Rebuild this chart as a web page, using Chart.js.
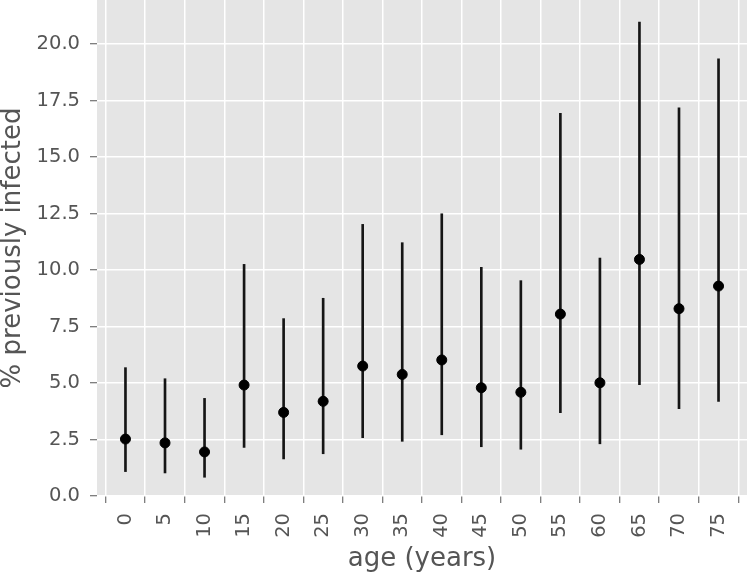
<!DOCTYPE html>
<html>
<head>
<meta charset="utf-8">
<script src="https://cdn.jsdelivr.net/npm/chart.js@4/dist/chart.umd.min.js"></script>
<style>
  body { margin: 0; background: #fff; }
  #wrap { width: 748px; height: 572px; }
</style>
</head>
<body>
<div id="wrap"><canvas id="chart" width="748" height="572"></canvas></div>
<script>
// age groups and % previously infected (point estimate, lower, upper)
const ages = [0, 5, 10, 15, 20, 25, 30, 35, 40, 45, 50, 55, 60, 65, 70, 75];
const estimate = [2.52, 2.35, 1.95, 4.91, 3.70, 4.19, 5.75, 5.38, 6.02, 4.79, 4.59, 8.05, 5.01, 10.47, 8.29, 9.29];
const lower = [1.08, 1.02, 0.83, 2.15, 1.64, 1.87, 2.58, 2.42, 2.71, 2.18, 2.07, 3.69, 2.31, 4.93, 3.86, 4.19];
const upper = [5.68, 5.19, 4.32, 10.25, 7.85, 8.75, 12.02, 11.21, 12.49, 10.12, 9.53, 16.93, 10.53, 20.97, 17.18, 19.35];
const yTicks = [0, 2.5, 5, 7.5, 10, 12.5, 15, 17.5, 20];

const textColor = "#555555";
const tickFont = { family: "DejaVu Sans", size: 19.5 };
const titleFont = { family: "DejaVu Sans", size: 26, lineHeight: 1 };

// ggplot style grey panel
const panelBg = {
  id: "panelBg",
  beforeDraw(chart) {
    const a = chart.chartArea;
    const ctx = chart.ctx;
    ctx.save();
    ctx.fillStyle = "#E5E5E5";
    ctx.fillRect(a.left, a.top, a.right - a.left, a.bottom - a.top);
    ctx.restore();
  }
};

const noPad = (scale) => {
  scale.paddingTop = 0;
  scale.paddingBottom = 0;
  scale.paddingLeft = 0;
  scale.paddingRight = 0;
};

const ctx = document.getElementById("chart").getContext("2d");
const myChart = new Chart(ctx, {
  type: "bar",
  data: {
    datasets: [
      {
        type: "scatter",
        data: ages.map((a, i) => ({ x: a, y: estimate[i] })),
        backgroundColor: "#000",
        borderColor: "#000",
        pointRadius: 5,
        pointHoverRadius: 5,
        order: 0
      },
      {
        type: "bar",
        data: ages.map((a, i) => ({ x: a, y: [lower[i], upper[i]] })),
        backgroundColor: "#151515",
        borderWidth: 0,
        barThickness: 2,
        order: 1
      }
    ]
  },
  options: {
    responsive: false,
    animation: false,
    events: [],
    layout: { autoPadding: false, padding: { top: 0, right: 1, left: 0, bottom: 0 } },
    plugins: { legend: { display: false }, tooltip: { enabled: false } },
    scales: {
      x: {
        type: "linear",
        offset: false,
        min: -3.6,
        max: 78.6,
        afterBuildTicks: (scale) => { scale.ticks = ages.map(v => ({ value: v })); },
        afterFit: (scale) => { scale.height = 76; noPad(scale); },
        grid: { color: "#fff", lineWidth: 1.5, tickLength: 7, tickColor: textColor, tickWidth: 1 },
        border: { display: false },
        ticks: {
          color: textColor, font: tickFont, padding: 10,
          minRotation: 90, maxRotation: 90, autoSkip: false,
          callback: (v) => String(v)
        },
        title: { display: true, text: "age (years)", color: textColor, font: titleFont, padding: { top: 3, bottom: 0 } }
      },
      y: {
        min: 0,
        max: 21.95,
        afterBuildTicks: (scale) => { scale.ticks = yTicks.map(v => ({ value: v })); },
        afterFit: (scale) => { scale.width = 97; noPad(scale); },
        grid: { color: "#fff", lineWidth: 1.5, tickLength: 7, tickColor: textColor, tickWidth: 1 },
        border: { display: false },
        ticks: { color: textColor, font: tickFont, padding: 10, callback: (v) => v.toFixed(1) },
        title: { display: true, text: "% previously infected", color: textColor, font: titleFont, padding: { top: 0, bottom: 0 } }
      }
    }
  },
  plugins: [panelBg]
});
</script>
</body>
</html>
